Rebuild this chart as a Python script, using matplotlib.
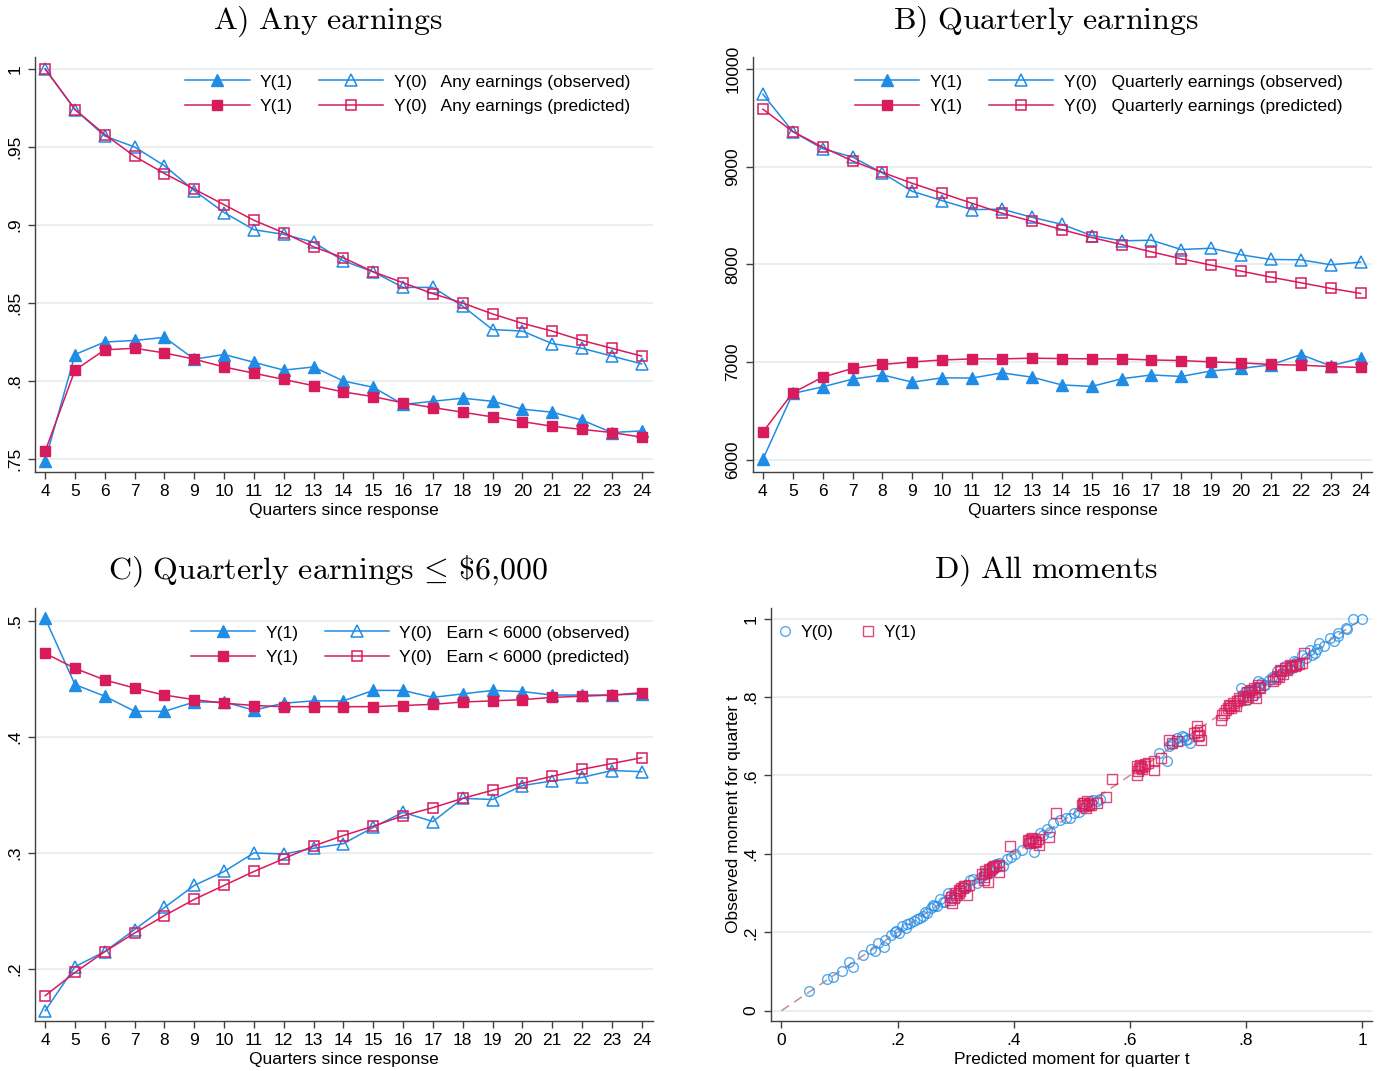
import numpy as np
import matplotlib
matplotlib.use("Agg")
import matplotlib.pyplot as plt

plt.rcParams["font.family"] = ["Liberation Sans", "DejaVu Sans"]
plt.rcParams["mathtext.fontset"] = "cm"

# ---- data ----
quarters = list(range(4, 25))

# A) Any earnings
a_y1_obs = [0.749, 0.817, 0.825, 0.826, 0.828, 0.814, 0.817, 0.812, 0.807, 0.809, 0.800,
            0.796, 0.785, 0.787, 0.789, 0.787, 0.782, 0.780, 0.775, 0.767, 0.768]
a_y1_pred = [0.755, 0.807, 0.820, 0.821, 0.818, 0.814, 0.809, 0.805, 0.801, 0.797, 0.793,
             0.790, 0.786, 0.783, 0.780, 0.777, 0.774, 0.771, 0.769, 0.767, 0.764]
a_y0_obs = [1.000, 0.974, 0.957, 0.950, 0.938, 0.922, 0.908, 0.897, 0.894, 0.889, 0.877,
            0.870, 0.860, 0.860, 0.848, 0.833, 0.832, 0.824, 0.821, 0.816, 0.811]
a_y0_pred = [1.000, 0.974, 0.958, 0.944, 0.933, 0.923, 0.913, 0.903, 0.895, 0.886, 0.879,
             0.870, 0.863, 0.856, 0.850, 0.843, 0.837, 0.832, 0.826, 0.821, 0.816]

# B) Quarterly earnings
b_y1_obs = [6007, 6680, 6748, 6827, 6870, 6796, 6840, 6838, 6891, 6847, 6768,
            6752, 6830, 6870, 6854, 6911, 6936, 6973, 7078, 6962, 7041]
b_y1_pred = [6286, 6687, 6847, 6936, 6977, 7003, 7023, 7034, 7034, 7041, 7037,
             7034, 7034, 7023, 7017, 7003, 6993, 6977, 6969, 6956, 6946]
b_y0_obs = [9742, 9360, 9184, 9099, 8936, 8748, 8653, 8561, 8566, 8483, 8411,
            8296, 8242, 8248, 8153, 8166, 8099, 8051, 8048, 7997, 8024]
b_y0_pred = [9589, 9360, 9201, 9058, 8942, 8830, 8728, 8626, 8524, 8442, 8357,
             8276, 8204, 8129, 8058, 7993, 7932, 7870, 7813, 7755, 7704]

# C) Quarterly earnings <= 6000
c_y1_obs = [0.502, 0.445, 0.435, 0.422, 0.422, 0.430, 0.430, 0.423, 0.429, 0.431, 0.431,
            0.440, 0.440, 0.434, 0.437, 0.440, 0.439, 0.436, 0.436, 0.436, 0.437]
c_y1_pred = [0.472, 0.459, 0.449, 0.442, 0.436, 0.432, 0.429, 0.427, 0.426, 0.426, 0.426,
             0.426, 0.427, 0.428, 0.430, 0.431, 0.432, 0.434, 0.435, 0.436, 0.438]
c_y0_obs = [0.164, 0.202, 0.215, 0.234, 0.253, 0.272, 0.284, 0.300, 0.299, 0.304, 0.308,
            0.322, 0.335, 0.327, 0.347, 0.346, 0.358, 0.362, 0.365, 0.371, 0.370]
c_y0_pred = [0.177, 0.197, 0.215, 0.231, 0.246, 0.260, 0.272, 0.284, 0.295, 0.306, 0.315,
             0.323, 0.332, 0.339, 0.347, 0.354, 0.360, 0.366, 0.372, 0.377, 0.382]

# D) All moments (predicted, observed)
d_y0_pred = [0.048, 0.079, 0.089, 0.105, 0.117, 0.124, 0.141, 0.154, 0.161, 0.167, 0.177,
             0.179, 0.188, 0.198, 0.203, 0.208, 0.214, 0.221, 0.228, 0.234, 0.243, 0.250,
             0.257, 0.261, 0.268, 0.273, 0.279, 0.286, 0.301, 0.312, 0.324, 0.337, 0.348,
             0.363, 0.374, 0.381, 0.395, 0.403, 0.414, 0.435, 0.446, 0.457, 0.468, 0.479,
             0.490, 0.504, 0.519, 0.537, 0.548, 0.650, 0.664, 0.668, 0.675, 0.682, 0.690,
             0.697, 0.704, 0.791, 0.795, 0.802, 0.810, 0.813, 0.820, 0.831, 0.839, 0.853,
             0.868, 0.882, 0.897, 0.911, 0.926, 0.944, 0.959, 0.973, 0.984, 1.000,
             0.974, 0.958, 0.923, 0.913, 0.886, 0.870, 0.850, 0.832,
             0.196, 0.216, 0.238, 0.247, 0.263, 0.282, 0.292, 0.317, 0.330, 0.342, 0.356,
             0.369, 0.388, 0.425, 0.451, 0.463, 0.497, 0.512, 0.528, 0.543, 0.671, 0.686,
             0.694, 0.700, 0.798, 0.806, 0.816, 0.826, 0.844, 0.860, 0.875, 0.890, 0.904,
             0.918, 0.935, 0.952]
d_y0_obs = [0.051, 0.081, 0.085, 0.101, 0.125, 0.112, 0.141, 0.157, 0.151, 0.172, 0.163,
            0.180, 0.193, 0.202, 0.197, 0.216, 0.210, 0.223, 0.230, 0.233, 0.242, 0.249,
            0.261, 0.270, 0.266, 0.284, 0.278, 0.300, 0.287, 0.315, 0.334, 0.325, 0.346,
            0.357, 0.376, 0.368, 0.393, 0.399, 0.410, 0.406, 0.453, 0.463, 0.478, 0.487,
            0.491, 0.504, 0.517, 0.538, 0.540, 0.657, 0.636, 0.674, 0.683, 0.695, 0.700,
            0.691, 0.683, 0.823, 0.802, 0.793, 0.819, 0.806, 0.840, 0.831, 0.844, 0.866,
            0.878, 0.891, 0.908, 0.921, 0.938, 0.951, 0.963, 0.976, 1.000, 1.000,
            0.974, 0.957, 0.922, 0.908, 0.889, 0.870, 0.848, 0.832,
            0.200, 0.220, 0.236, 0.251, 0.268, 0.276, 0.295, 0.313, 0.336, 0.339, 0.352,
            0.373, 0.386, 0.428, 0.447, 0.457, 0.492, 0.508, 0.533, 0.535, 0.680, 0.688,
            0.698, 0.694, 0.812, 0.818, 0.822, 0.835, 0.850, 0.858, 0.872, 0.884, 0.900,
            0.913, 0.929, 0.943]
d_y1_pred = [0.290, 0.294, 0.301, 0.308, 0.312, 0.319, 0.323, 0.297, 0.348, 0.352, 0.359,
             0.366, 0.374, 0.355, 0.374, 0.348, 0.394, 0.424, 0.428, 0.432, 0.439, 0.443,
             0.461, 0.472, 0.519, 0.523, 0.526, 0.533, 0.544, 0.559, 0.570, 0.612, 0.613,
             0.617, 0.624, 0.632, 0.642, 0.642, 0.653, 0.668, 0.672, 0.682, 0.715, 0.715,
             0.719, 0.722, 0.711, 0.757, 0.759, 0.766, 0.773, 0.777, 0.784, 0.788, 0.795,
             0.780, 0.802, 0.810, 0.813, 0.820, 0.824, 0.817, 0.846, 0.853, 0.860, 0.868,
             0.875, 0.886, 0.897, 0.900, 0.305, 0.315, 0.362, 0.436, 0.529, 0.620, 0.770,
             0.806, 0.858, 0.880,
             0.292, 0.299, 0.306, 0.310, 0.316, 0.346, 0.350, 0.357, 0.364, 0.369, 0.426,
             0.430, 0.434, 0.437, 0.441, 0.518, 0.521, 0.525, 0.530, 0.614, 0.616, 0.621,
             0.626, 0.718, 0.720, 0.762, 0.769, 0.775, 0.782, 0.790, 0.798, 0.804, 0.808,
             0.815, 0.822, 0.850, 0.856, 0.863, 0.871, 0.878, 0.884, 0.892]
d_y1_obs = [0.283, 0.274, 0.295, 0.304, 0.312, 0.295, 0.321, 0.287, 0.334, 0.351, 0.359,
            0.368, 0.372, 0.329, 0.355, 0.342, 0.419, 0.436, 0.427, 0.440, 0.431, 0.423,
            0.444, 0.504, 0.529, 0.521, 0.534, 0.525, 0.529, 0.546, 0.591, 0.602, 0.623,
            0.627, 0.623, 0.631, 0.614, 0.636, 0.644, 0.691, 0.683, 0.687, 0.725, 0.712,
            0.704, 0.691, 0.708, 0.742, 0.755, 0.768, 0.776, 0.785, 0.789, 0.797, 0.802,
            0.780, 0.814, 0.806, 0.823, 0.831, 0.823, 0.797, 0.840, 0.853, 0.866, 0.874,
            0.883, 0.883, 0.887, 0.912, 0.300, 0.318, 0.365, 0.433, 0.524, 0.622, 0.781,
            0.812, 0.870, 0.880,
            0.290, 0.300, 0.308, 0.314, 0.318, 0.348, 0.356, 0.362, 0.366, 0.370, 0.432,
            0.438, 0.430, 0.434, 0.437, 0.524, 0.530, 0.518, 0.527, 0.612, 0.620, 0.616,
            0.628, 0.700, 0.715, 0.760, 0.772, 0.772, 0.778, 0.792, 0.795, 0.800, 0.818,
            0.812, 0.826, 0.845, 0.850, 0.860, 0.868, 0.876, 0.880, 0.884]

BLUE = "#1f8ce6"
RED = "#d81b5c"
GRID = "#e3ebec"
AX = "#404040"
FS = 12.5

fig = plt.figure(figsize=(13.86, 10.71), dpi=100)


def style_axes(ax, yticks, yticklabels):
    for s in ["top", "right"]:
        ax.spines[s].set_visible(False)
    for s in ["left", "bottom"]:
        ax.spines[s].set_color(AX)
        ax.spines[s].set_linewidth(1.0)
    ax.set_yticks(yticks)
    ax.set_yticklabels(yticklabels, rotation=90, va="center")
    ax.tick_params(axis="both", colors=AX, labelcolor="black", labelsize=FS,
                   length=5, width=1, pad=4)
    for y in yticks:
        ax.axhline(y, color=GRID, lw=1.1, zorder=0)


def line_panel(ax, y1_obs, y1_pred, y0_obs, y0_pred, label, ylim, yticks, yticklabels,
               anchor_x=0.963):
    h1 = ax.plot(quarters, y1_obs, color=BLUE, lw=1.1, marker="^", ms=8,
                 mfc=BLUE, mec=BLUE)[0]
    h3 = ax.plot(quarters, y0_obs, color=BLUE, lw=1.1, marker="^", ms=8,
                 mfc="none", mec=BLUE, mew=1.1)[0]
    h2 = ax.plot(quarters, y1_pred, color=RED, lw=1.1, marker="s", ms=7,
                 mfc=RED, mec=RED)[0]
    h4 = ax.plot(quarters, y0_pred, color=RED, lw=1.1, marker="s", ms=6.5,
                 mfc="none", mec=RED, mew=1.1)[0]
    ax.set_xlim(3.67, 24.38)
    ax.set_ylim(*ylim)
    ax.set_xticks(quarters)
    style_axes(ax, yticks, yticklabels)
    ax.set_xlabel("Quarters since response", fontsize=FS, labelpad=2.5)
    ax.legend([h1, h2, h3, h4],
              ["Y(1)", "Y(1)", "Y(0)   " + label + " (observed)",
               "Y(0)   " + label + " (predicted)"],
              ncol=2, loc="upper right", bbox_to_anchor=(anchor_x, 0.958),
              frameon=False, fontsize=FS, handlelength=3.7, handletextpad=0.6,
              columnspacing=1.5, labelspacing=0.54, borderpad=0, borderaxespad=0)


axA = fig.add_axes([0.0255, 0.5596, 0.4456, 0.3872])
line_panel(axA, a_y1_obs, a_y1_pred, a_y0_obs, a_y0_pred, "Any earnings",
           (0.7419, 1.0077), [0.75, 0.8, 0.85, 0.9, 0.95, 1.0],
           [".75", ".8", ".85", ".9", ".95", "1"])

axB = fig.add_axes([0.5433, 0.5596, 0.4466, 0.3872])
line_panel(axB, b_y1_obs, b_y1_pred, b_y0_obs, b_y0_pred, "Quarterly earnings",
           (5880, 10123), [6000, 7000, 8000, 9000, 10000],
           ["6000", "7000", "8000", "9000", "10000"], anchor_x=0.952)

axC = fig.add_axes([0.0255, 0.0467, 0.4456, 0.3856])
line_panel(axC, c_y1_obs, c_y1_pred, c_y0_obs, c_y0_pred, "Earn < 6000",
           (0.1552, 0.511), [0.2, 0.3, 0.4, 0.5], [".2", ".3", ".4", ".5"])

axD = fig.add_axes([0.5563, 0.047, 0.4336, 0.3856])
axD.plot([0, 1], [0, 1], color="#c98c8c", lw=1.1, ls=(0, (6, 4)), zorder=1)
hc = axD.plot(d_y0_pred, d_y0_obs, ls="none", marker="o", ms=7, mfc="none",
              mec=BLUE, mew=1.0, alpha=0.75, zorder=2)[0]
hs = axD.plot(d_y1_pred, d_y1_obs, ls="none", marker="s", ms=7, mfc="none",
              mec=RED, mew=1.0, alpha=0.8, zorder=3)[0]
axD.set_xlim(-0.018, 1.017)
axD.set_ylim(-0.0255, 1.028)
axD.set_xticks([0, 0.2, 0.4, 0.6, 0.8, 1.0])
axD.set_xticklabels(["0", ".2", ".4", ".6", ".8", "1"])
style_axes(axD, [0, 0.2, 0.4, 0.6, 0.8, 1.0], ["0", ".2", ".4", ".6", ".8", "1"])
axD.set_xlabel("Predicted moment for quarter t", fontsize=FS, labelpad=2.5)
axD.set_ylabel("Observed moment for quarter t", fontsize=FS, labelpad=2)
axD.legend([hc, hs], ["Y(0)", "Y(1)"], ncol=2, loc="upper left",
           bbox_to_anchor=(0.012, 0.958), frameon=False, fontsize=FS,
           handlelength=0.8, handletextpad=0.5, columnspacing=1.6,
           borderpad=0, borderaxespad=0)

# panel titles (Computer Modern look)
def cm(s):
    return r"$\mathrm{" + s.replace(" ", r"\ ") + "}$"

TS = 23
ty_top = 1 - 22 / 1071
ty_bot = 1 - 571 / 1071
fig.text(328 / 1386, ty_top, cm("A) Any earnings"), ha="center", va="center", fontsize=TS)
fig.text(1046 / 1386, ty_top, cm("B) Quarterly earnings"), ha="center", va="center", fontsize=TS)
fig.text(328 / 1386, ty_bot,
         r"$\mathrm{C)\ Quarterly\ earnings}\,\leq\,\mathrm{\$6{,}000}$",
         ha="center", va="center", fontsize=TS)
fig.text(1046 / 1386, ty_bot, cm("D) All moments"), ha="center", va="center", fontsize=TS)

fig.savefig("out.png", dpi=100, facecolor="white")
